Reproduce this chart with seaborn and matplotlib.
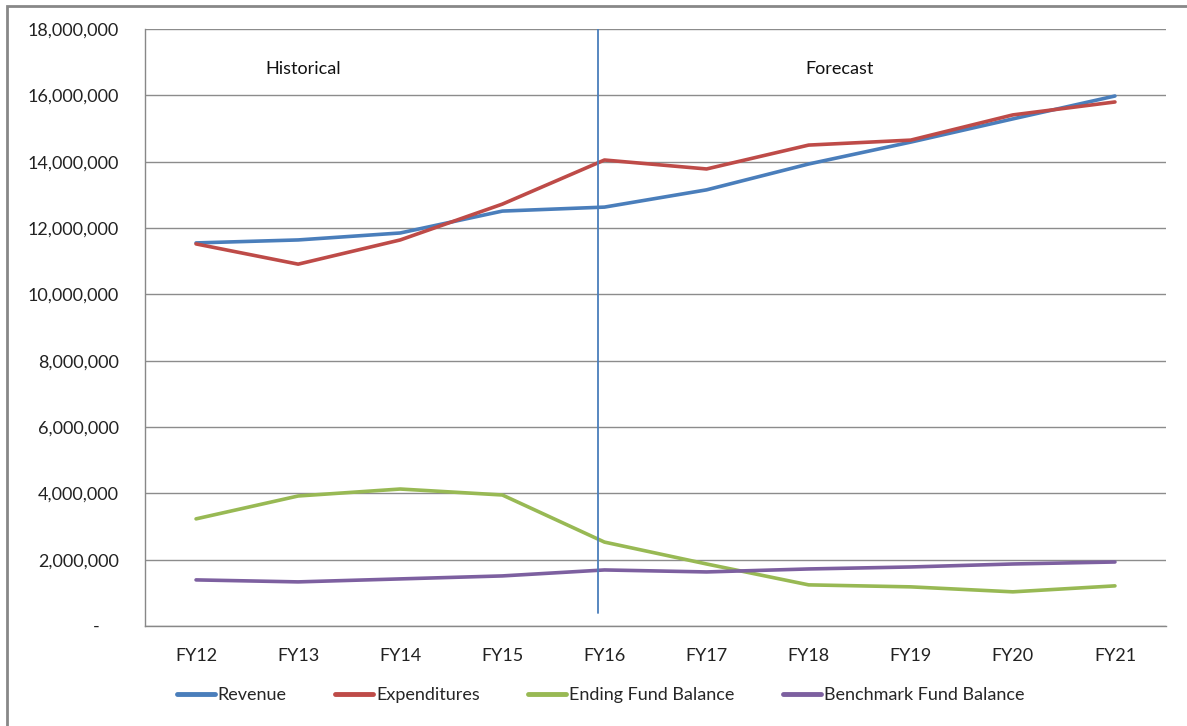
import matplotlib
matplotlib.use("Agg")
import matplotlib.pyplot as plt
import matplotlib.ticker as mticker
from matplotlib.patches import Rectangle
import seaborn as sns
import pandas as pd

years = ["FY12", "FY13", "FY14", "FY15", "FY16", "FY17", "FY18", "FY19", "FY20", "FY21"]
revenue = [11550000, 11640000, 11850000, 12510000, 12630000, 13150000, 13930000, 14590000, 15290000, 15980000]
expenditures = [11520000, 10910000, 11640000, 12720000, 14050000, 13780000, 14500000, 14650000, 15410000, 15800000]
ending_fund = [3230000, 3920000, 4130000, 3950000, 2530000, 1870000, 1240000, 1180000, 1030000, 1210000]
benchmark_fund = [1390000, 1330000, 1420000, 1510000, 1690000, 1630000, 1720000, 1780000, 1870000, 1930000]

series_names = ["Revenue", "Expenditures", "Ending Fund Balance", "Benchmark Fund Balance"]
series_values = [revenue, expenditures, ending_fund, benchmark_fund]
colors = ["#4a7ebb", "#be4b48", "#98b954", "#7d60a0"]

rows = []
for name, vals in zip(series_names, series_values):
    for i, (yr, v) in enumerate(zip(years, vals)):
        rows.append({"idx": i, "year": yr, "value": v, "series": name})
df = pd.DataFrame(rows)

sns.set_theme(style="white")
plt.rcParams["font.family"] = ["Lato", "DejaVu Sans"]
FS = 13

fig = plt.figure(figsize=(11.87, 7.26), dpi=100)
ax = fig.add_axes([145 / 1187, 1 - 626 / 726, (1166 - 145) / 1187, (626 - 29) / 726])

sns.lineplot(data=df, x="idx", y="value", hue="series", hue_order=series_names,
             palette=colors, linewidth=2.6, ax=ax, legend=False, sort=False)

ax.set_xlim(-0.5, len(years) - 0.5)
ax.set_ylim(0, 18000000)
ax.set_yticks(range(0, 18000001, 2000000))

def yfmt(v, pos):
    return "-    " if v == 0 else f"{int(v):,}"

ax.yaxis.set_major_formatter(mticker.FuncFormatter(yfmt))
ax.set_xticks(range(len(years)))
ax.set_xticklabels(years)
ax.set_xticks([i - 0.5 for i in range(len(years) + 1)], minor=True)
ax.tick_params(axis="x", which="major", length=0, pad=16, labelsize=FS, colors="#222222")
ax.tick_params(axis="x", which="minor", length=7, width=1, color="#888888", direction="out")
ax.tick_params(axis="y", which="major", length=8, width=1, color="#888888", direction="out",
               pad=11, labelsize=FS, labelcolor="#222222")
ax.set_xlabel("")
ax.set_ylabel("")

ax.grid(axis="y", color="#8c8c8c", linewidth=1)
ax.set_axisbelow(True)
for s in ["top", "right"]:
    ax.spines[s].set_visible(False)
for s in ["left", "bottom"]:
    ax.spines[s].set_color("#888888")
    ax.spines[s].set_linewidth(1)

# divider between historical and forecast periods
ax.plot([3.94, 3.94], [18000000, 400000], color="#4a7ebb", linewidth=1.3, zorder=5)
ax.text(1.05, 16800000, "Historical", ha="center", va="center", fontsize=FS, color="#111111")
ax.text(6.3, 16800000, "Forecast", ha="center", va="center", fontsize=FS, color="#111111")

handles = [plt.Line2D([], [], color=c, linewidth=3.5) for c in colors]
fig.legend(handles, series_names, loc="center", bbox_to_anchor=(0.506, 1 - 695 / 726), ncol=4,
           frameon=False, fontsize=FS, handlelength=2.1, handletextpad=0.15, columnspacing=2.7)

# outer chart frame
fig.patches.append(Rectangle((7 / 1187, -0.2), 1.2, 1 - 6 / 726 + 0.2, transform=fig.transFigure,
                             fill=False, edgecolor="#888888", linewidth=2))

fig.savefig("out.png", dpi=100)
